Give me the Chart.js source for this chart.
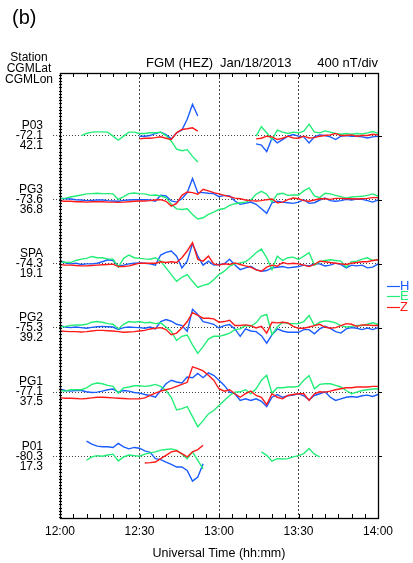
<!DOCTYPE html>
<html>
<head>
<meta charset="utf-8">
<script src="https://cdn.jsdelivr.net/npm/chart.js@4"></script>
<style>
  html, body { margin: 0; padding: 0; background: #fff; overflow: hidden; }
</style>
</head>
<body>
<canvas id="fgmChart" width="413" height="563"></canvas>
<script>
// stations, top to bottom
const stations = ['P03', 'PG3', 'SPA', 'PG2', 'PG1', 'P01'];
const cgmLat = ['-72.1', '-73.6', '-74.3', '-75.3', '-77.1', '-80.3'];
const cgmLon = ['42.1', '36.8', '19.1', '39.2', '37.5', '17.3'];

// sample times, minutes after 12:00 UT (every 2 min)
const minutes = [];
for (let m = 0; m <= 120; m += 2) minutes.push(m);
const timeLabels = ['12:00', '12:30', '13:00', '13:30', '14:00'];

// deviations from baseline, nT (null = no data)
const p03H = [null,null,null,null,null,null,null,null,null,null,null,null,null,null,null,
  -4,-4,0,13,21,6,-21,17,34,101,195,122,
  null,null,null,null,null,null,null,null,null,null,
  -52,-60,-100,-15,-46,-25,-4,6,-4,-8,-46,-8,4,0,-8,-25,-4,0,-4,-4,-8,-15,-8,-4];
const p03E = [null,null,null,null,
  0,13,21,23,23,21,-4,-29,-4,21,21,13,13,17,17,21,0,-35,-85,-95,-88,-130,-165,
  null,null,null,null,null,null,null,null,null,null,
  -4,55,17,-25,34,21,13,21,17,27,71,21,17,29,21,13,8,13,8,13,10,17,25,13];
const p03Z = [null,null,null,null,null,null,null,null,null,null,null,null,null,null,null,
  -21,-17,-17,-13,-8,-17,-25,17,38,42,48,27,
  null,null,null,null,null,null,null,null,null,null,
  -21,-17,-4,-8,-25,-17,-4,-15,-17,-4,-15,-13,-4,0,4,13,0,0,4,-4,0,0,8,4];

const pg3H = [8,6,4,0,-2,-6,-4,-2,-2,-6,-8,-10,-4,-2,0,0,0,-2,-10,28,
  23,-8,-15,6,44,132,44,44,40,38,19,27,23,-8,-29,-23,-15,-29,-57,-85,
  -19,-10,-15,-19,-23,-15,0,-23,-19,-2,10,-6,-10,-6,2,-2,4,2,-6,-15,-2];
const pg3E = [6,10,17,23,29,36,38,40,38,38,36,2,19,38,42,38,36,27,29,23,
  13,-29,-57,-61,-57,-92,-120,-113,-92,-78,-61,-55,-36,-25,-19,-15,-2,34,52,34,
  -15,34,40,27,29,29,55,74,23,13,40,36,27,19,10,17,19,21,27,36,23];
const pg3Z = [-8,-10,-10,-13,-13,-15,-13,-13,-13,-15,-15,-17,-15,-13,-10,-8,-8,-6,-2,0,
  -10,-40,-23,27,48,44,34,65,55,44,36,27,19,10,6,-2,-6,-8,-6,0,
  4,-19,-15,0,10,6,-6,-10,-2,6,6,2,8,8,6,6,4,6,8,13,13];

const spaH = [21,6,0,4,-4,0,0,4,13,25,21,-13,-8,0,4,6,4,0,-8,55,
  71,80,48,-25,17,126,48,-8,17,-8,-4,0,29,-8,-36,-25,-15,-36,-46,-42,
  -25,-21,-17,-25,-21,-17,-8,-13,0,0,-13,-8,4,-4,-25,-8,-13,-8,-25,-21,0];
const spaE = [13,10,8,21,29,34,46,38,38,31,29,-21,34,55,38,34,31,29,38,17,
  -25,-67,-109,-84,-67,-109,-147,-134,-126,-99,-67,-46,-15,0,6,13,38,69,92,38,
  -36,48,21,38,42,27,48,69,-8,13,21,25,21,17,-21,13,17,29,38,21,25];
const spaZ = [-4,-8,-8,-10,-13,-13,-10,-8,-6,-4,-2,-17,-17,-13,-4,4,4,4,4,13,
  8,13,8,38,80,132,27,17,48,0,-8,0,-4,6,-4,-13,-21,-38,-46,-21,
  -8,-15,8,0,4,0,-8,-17,-4,17,13,8,4,0,-4,4,8,13,13,21,25];

const pg2H = [15,6,2,6,2,-2,4,8,10,8,6,-10,2,6,4,2,-2,6,-6,40,
  53,42,23,15,-21,116,84,40,32,23,0,15,21,-6,-52,-6,-19,-23,-48,-95,
  -42,-6,-19,-27,-27,-27,-10,-10,-36,-6,10,-2,-23,-32,-6,2,-2,-10,0,-10,2];
const pg2E = [6,10,15,19,19,23,36,40,36,27,23,-6,23,40,36,40,32,36,27,32,
  6,-21,-78,-52,-44,-105,-158,-116,-69,-52,-52,-44,-32,-10,-6,15,10,32,74,84,
  -42,6,36,27,27,27,40,78,15,36,44,40,32,15,6,10,15,15,23,32,23];
const pg2Z = [-19,-21,-23,-23,-25,-23,-19,-15,-15,-17,-19,-23,-27,-25,-23,-19,-15,-6,-2,2,
  -10,-42,-32,0,40,95,78,61,61,57,36,40,48,15,15,19,15,0,10,-32,
  36,32,36,32,10,-2,-2,6,15,23,6,-2,2,15,27,23,10,19,19,15,15];

const pg1H = [19,10,6,10,10,2,-2,0,6,15,19,0,10,6,-2,-6,-15,-21,-32,10,
  52,74,63,57,94,90,116,90,120,105,74,42,0,-10,-52,-42,-52,-42,-57,-90,
  -32,-15,-32,-23,-19,-10,-23,-48,-21,-10,2,-32,-52,-42,-32,-27,-32,-23,-19,-27,-15];
const pg1E = [10,6,15,15,15,27,48,57,52,42,36,-6,27,32,40,40,36,40,48,36,
  10,-32,-111,-103,-90,-153,-216,-178,-136,-115,-84,-52,-21,0,2,15,-10,21,74,105,
  -6,27,27,32,32,36,74,103,21,48,52,52,42,32,10,-10,0,10,15,19,21];
const pg1Z = [-36,-38,-38,-40,-42,-40,-36,-32,-32,-34,-36,-38,-40,-42,-42,-42,-36,-21,-6,6,
  15,23,36,48,61,158,147,132,105,74,21,6,15,-10,-32,-10,6,-21,-32,-78,
  -10,-32,-42,-21,-15,-10,-10,-52,-10,2,0,6,15,21,27,27,32,32,32,36,36];

const p01H = [null,null,null,null,null,
  95,76,63,59,59,55,80,59,46,55,50,34,25,-15,-21,-36,-50,-67,-67,-88,-155,-130,-46,
  null,null,null,null,null,null,null,null,null,null,null,null,null,null,null,null,
  null,null,null,null,null,null,null,null,null,null,null,null,null,null,null,null,null];
const p01E = [null,null,null,null,null,
  -25,-4,4,0,8,13,-29,-4,8,4,0,13,21,27,38,42,46,38,13,-15,27,-25,-78,
  null,null,null,null,null,null,null,null,null,null,
  27,6,-31,-15,-17,-15,-4,4,17,48,13,-4,
  null,null,null,null,null,null,null,null,null,null,null];
const p01Z = [null,null,null,null,null,null,null,null,null,null,null,null,null,null,null,null,
  -42,-40,-36,-15,6,27,34,17,-4,27,42,69,
  null,null,null,null,null,null,null,null,null,null,null,null,null,null,null,null,
  null,null,null,null,null,null,null,null,null,null,null,null,null,null,null,null,null];

const nTperDiv = 400;
const FONT = "'Liberation Sans', Arial, Helvetica, sans-serif";

const components = [
  { name: 'H', color: '#1a5cff', order: 3, series: [p03H, pg3H, spaH, pg2H, pg1H, p01H] },
  { name: 'E', color: '#22ee77', order: 2, series: [p03E, pg3E, spaE, pg2E, pg1E, p01E] },
  { name: 'Z', color: '#ff1a1a', order: 1, series: [p03Z, pg3Z, spaZ, pg2Z, pg1Z, p01Z] }
];

function baseline(i) {
  return (stations.length - i) * nTperDiv;
}

const datasets = [];
stations.forEach(function (st, i) {
  components.forEach(function (c) {
    datasets.push({
      label: st + ' ' + c.name,
      data: c.series[i].map(function (v, k) {
        return { x: minutes[k], y: v === null ? null : baseline(i) + v };
      }),
      borderColor: c.color,
      borderWidth: 1.4,
      pointRadius: 0,
      tension: 0,
      spanGaps: false,
      order: c.order
    });
  });
});

// frame, inward minute ticks, dense left ticks
const framePlugin = {
  id: 'frame',
  afterDraw(chart) {
    const ctx = chart.ctx;
    const a = chart.chartArea;
    const x = chart.scales.x;
    const y = chart.scales.y;
    ctx.save();
    ctx.strokeStyle = '#000';
    ctx.lineWidth = 1;
    ctx.beginPath();
    for (let m = 5; m < 120; m += 5) {
      const px = Math.round(x.getPixelForValue(m)) + 0.5;
      ctx.moveTo(px, a.top); ctx.lineTo(px, a.top + 4);
      ctx.moveTo(px, a.bottom); ctx.lineTo(px, a.bottom - 4);
    }
    for (let v = 20; v < y.max; v += 20) {
      const py = Math.round(y.getPixelForValue(v)) + 0.5;
      ctx.moveTo(a.left - 1, py); ctx.lineTo(a.left + 2, py);
    }
    stations.forEach(function (st, i) {
      const py = Math.round(y.getPixelForValue(baseline(i))) + 0.5;
      ctx.moveTo(a.right, py); ctx.lineTo(a.right + 4, py);
    });
    ctx.stroke();
    ctx.lineWidth = 1.3;
    ctx.strokeRect(a.left + 0.5, a.top + 0.5, a.right - a.left, a.bottom - a.top);
    ctx.restore();
  }
};

// header texts and H/E/Z key
const textPlugin = {
  id: 'texts',
  afterDraw(chart) {
    const ctx = chart.ctx;
    ctx.save();
    ctx.fillStyle = '#000';
    ctx.textBaseline = 'middle';
    ctx.font = '20px ' + FONT;
    ctx.textAlign = 'left';
    ctx.fillText('(b)', 12, 18);

    ctx.font = '12px ' + FONT;
    ctx.textAlign = 'center';
    ctx.fillText('Station', 29, 58);
    ctx.fillText('CGMLat', 29, 69);
    ctx.fillText('CGMLon', 29, 80);

    ctx.font = '13px ' + FONT;
    ctx.textAlign = 'left';
    ctx.fillText('FGM (HEZ)', 146, 63);
    ctx.fillText('Jan/18/2013', 220, 63);
    ctx.textAlign = 'right';
    ctx.fillText('400 nT/div', 378, 63);

    ctx.font = '13px ' + FONT;
    ctx.textAlign = 'left';
    components.forEach(function (c, j) {
      const py = 285.5 + j * 10.5;
      ctx.strokeStyle = c.color;
      ctx.lineWidth = 1.2;
      ctx.beginPath();
      ctx.moveTo(387, Math.round(py) + 0.5);
      ctx.lineTo(400, Math.round(py) + 0.5);
      ctx.stroke();
      ctx.fillStyle = c.color;
      ctx.fillText(c.name, 400, py + 0.5);
    });
    ctx.restore();
  }
};

new Chart(document.getElementById('fgmChart'), {
  type: 'line',
  data: { datasets: datasets },
  plugins: [framePlugin, textPlugin],
  options: {
    responsive: false,
    animation: false,
    devicePixelRatio: 1,
    layout: { padding: { top: 73, right: 35, left: 0, bottom: 0 } },
    plugins: {
      legend: { display: false },
      tooltip: { enabled: false }
    },
    scales: {
      x: {
        type: 'linear',
        min: 0,
        max: 120,
        afterBuildTicks: function (s) {
          s.ticks = [0, 30, 60, 90, 120].map(function (v) { return { value: v }; });
        },
        afterFit: function (s) { s.height = 45; },
        ticks: {
          autoSkip: false,
          maxRotation: 0,
          padding: 6,
          color: '#000',
          font: { family: FONT, size: 12 },
          callback: function (v) { return timeLabels[v / 30]; }
        },
        grid: {
          drawTicks: false,
          color: function (c) {
            return (c.tick && (c.tick.value === 0 || c.tick.value === 120)) ? 'rgba(0,0,0,0)' : '#444';
          },
          lineWidth: 1
        },
        border: { display: false, dash: [2, 2] },
        title: {
          display: true,
          text: 'Universal Time (hh:mm)',
          color: '#000',
          font: { family: FONT, size: 12.5 },
          padding: { top: 0, bottom: 2 }
        }
      },
      y: {
        min: 15,
        max: 2790,
        afterBuildTicks: function (s) {
          s.ticks = stations.map(function (st, i) { return { value: baseline(i) }; }).reverse();
        },
        afterFit: function (s) { s.width = 60; },
        ticks: {
          autoSkip: false,
          padding: 10,
          color: '#000',
          font: { family: FONT, size: 12, lineHeight: '10px' },
          callback: function (v) {
            const i = stations.length - Math.round(v / nTperDiv);
            return [stations[i], cgmLat[i], cgmLon[i]];
          }
        },
        grid: {
          color: '#444',
          lineWidth: 1,
          drawTicks: true,
          tickLength: 7,
          tickColor: '#444',
          tickBorderDash: [1, 2]
        },
        border: { display: false, dash: [1, 2] }
      }
    }
  }
});
</script>
</body>
</html>
